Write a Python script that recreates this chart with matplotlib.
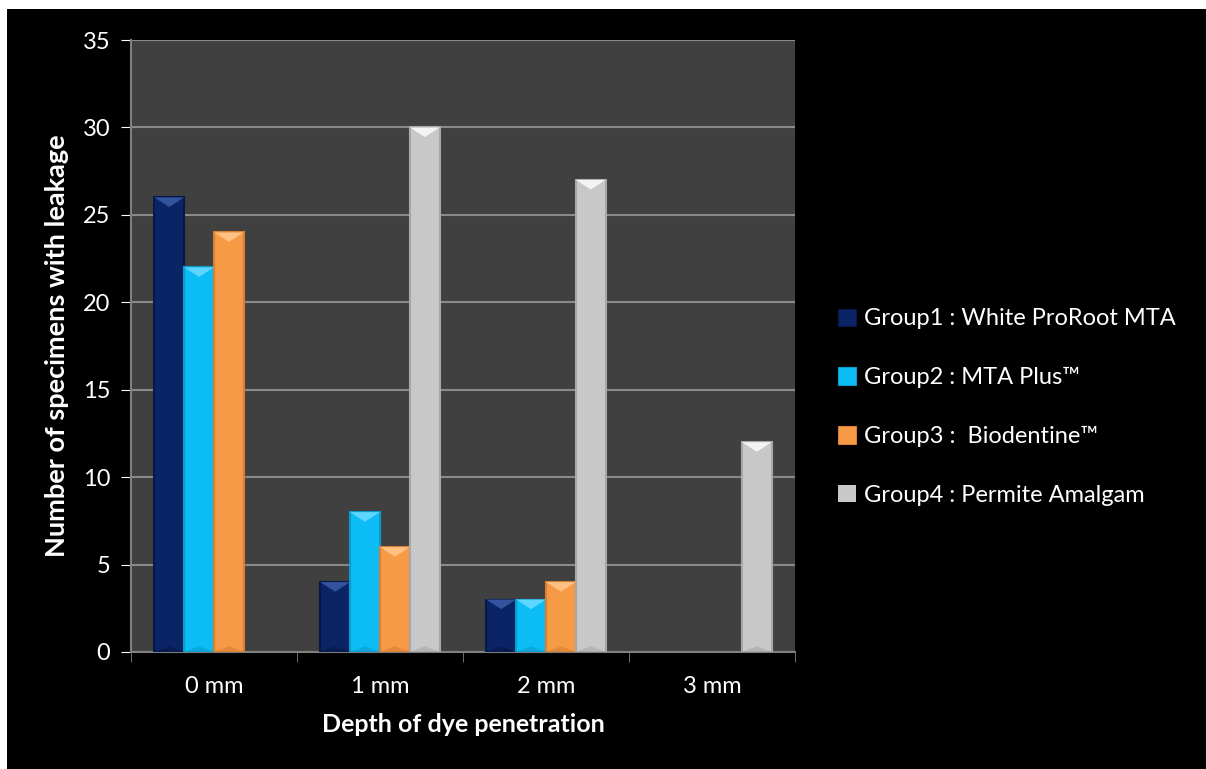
import numpy as np
import matplotlib.pyplot as plt
from matplotlib.patches import Rectangle, Polygon

plt.rcParams['font.family'] = ['Lato', 'DejaVu Sans']

categories = ["0 mm", "1 mm", "2 mm", "3 mm"]
groups = ["Group1 : White ProRoot MTA", "Group2 : MTA Plus\u2122",
          "Group3 :  Biodentine\u2122", "Group4 : Permite Amalgam"]
g1 = [26, 4, 3, 0]
g2 = [22, 8, 3, 0]
g3 = [24, 6, 4, 0]
g4 = [0, 30, 27, 12]
series = [g1, g2, g3, g4]

colors = ["#0b2466", "#0cbcf5", "#f79a46", "#c8c8c8"]
tops = ["#34539e", "#5fd6ff", "#ffc082", "#f4f4f4"]
sides = ["#061848", "#0a9ccc", "#d87f34", "#a8a8a8"]

fig = plt.figure(figsize=(12.06, 7.69), dpi=100, facecolor="white")
fig.patches.append(Rectangle((7 / 1206, 0), 1, 1 - 9 / 769,
                             transform=fig.transFigure, facecolor="black",
                             edgecolor="none", zorder=-10))

ax = fig.add_axes([131 / 1206, 117 / 769, 664 / 1206, 612 / 769])
ax.set_facecolor("#404040")

x = np.arange(len(categories))
w = 0.18
for i, vals in enumerate(series):
    bars = ax.bar(x + (i - 1.5) * w, vals, w, color=colors[i],
                  edgecolor=sides[i], linewidth=1.5, zorder=3,
                  label=groups[i])
    for b in bars:
        h = b.get_height()
        if h <= 0:
            b.set_edgecolor("none")
            continue
        bx, bw = b.get_x(), b.get_width()
        d = min(0.55, h / 2)
        ax.add_patch(Polygon([(bx, h), (bx + bw, h), (bx + bw / 2, h - d)],
                             closed=True, facecolor=tops[i],
                             edgecolor="none", zorder=4))
        ax.add_patch(Polygon([(bx, 0), (bx + bw, 0), (bx + bw / 2, d * 0.6)],
                             closed=True, facecolor=sides[i],
                             edgecolor="none", alpha=0.6, zorder=4))

ax.set_xlim(-0.5, 3.5)
ax.set_ylim(0, 35)
ax.set_yticks(range(0, 36, 5))
ax.set_xticks(x)
ax.set_xticklabels(categories)
ax.set_xticks(np.arange(-0.5, 4, 1), minor=True)
ax.tick_params(axis="x", which="major", length=0, pad=17)
ax.tick_params(axis="x", which="minor", length=7, color="#808080")
ax.tick_params(axis="y", length=7, color="#808080", pad=8)
ax.tick_params(colors="white", labelsize=17)
ax.tick_params(axis="x", which="minor", colors="#808080")
ax.grid(axis="y", color="#8a8a8a", linewidth=1.5, zorder=1)
for s in ["top", "right"]:
    ax.spines[s].set_visible(False)
for s in ["left", "bottom"]:
    ax.spines[s].set_color("#808080")
    ax.spines[s].set_linewidth(1.5)

ax.set_ylabel("Number of specimens with leakage", color="white",
              fontsize=19.5, fontweight="bold", labelpad=10)
ax.set_xlabel("Depth of dye penetration", color="white",
              fontsize=18, fontweight="bold", labelpad=12)

leg = ax.legend(loc="center left", bbox_to_anchor=(1.033, 0.40),
                frameon=False, fontsize=17, labelcolor="white",
                handlelength=0.75, handleheight=0.75, handletextpad=0.35,
                labelspacing=1.6)
for hnd in leg.legend_handles:
    hnd.set_linewidth(0.8)

fig.savefig("out.png", dpi=100, facecolor=fig.get_facecolor())
